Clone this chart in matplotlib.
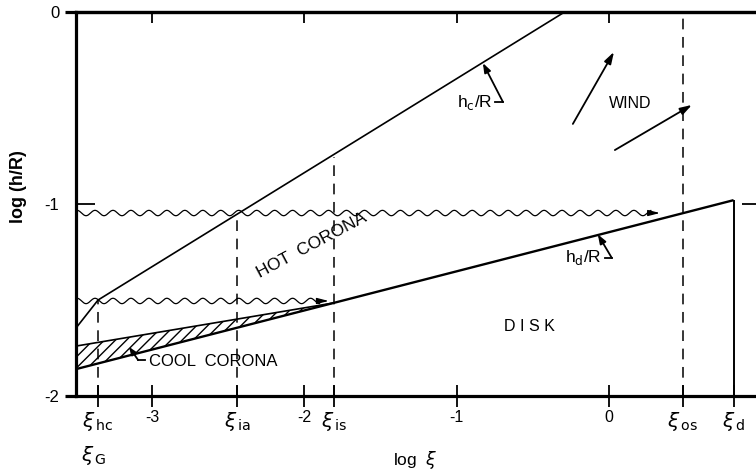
import numpy as np
import matplotlib
matplotlib.use("Agg")
import matplotlib.pyplot as plt
from matplotlib.ticker import FixedLocator, FixedFormatter

plt.rcParams['font.family'] = ['Liberation Sans', 'DejaVu Sans']
plt.rcParams['mathtext.fontset'] = 'dejavusans'
plt.rcParams['hatch.linewidth'] = 1.0

# ---- data (log xi, log h/R) ----
xi_hc, xi_ia, xi_is, xi_os, xi_d = -3.355, -2.44, -1.805, 0.486, 0.82
x_min, x_max = -3.5, 1.0
y_min, y_max = -2.0, 0.0

hc_x = [-3.5, xi_hc, -0.29]
hc_y = [-1.646, -1.5, 0.0]
disk_x = [-3.5, xi_d]
disk_y = [-1.86, -0.98]
cool_x = [-3.5, xi_is]
cool_lower = [-1.86, -1.514]
cool_upper = [-1.74, -1.515]

dash_x = [xi_hc, xi_ia, xi_is, xi_os]
dash_top = [-1.5, -1.06, -0.755, 0.0]

wave_levels = [-1.047, -1.505]
wave_ends = [0.336, -1.84]

wind_tails = [(-0.236, -0.583), (0.040, -0.719)]
wind_heads = [(0.034, -0.208), (0.546, -0.484)]

xtick_pos = [xi_hc, -3, xi_ia, -2, xi_is, -1, 0, xi_os, xi_d]
xtick_lab = [r'$\xi_{\,\mathrm{hc}}$', '-3', r'$\xi_{\,\mathrm{ia}}$', '-2',
             r'$\xi_{\,\mathrm{is}}$', '-1', '0', r'$\xi_{\,\mathrm{os}}$',
             r'$\xi_{\,\mathrm{d}}$']
ymaj_pos, ymaj_lab = [-2, 0], ['-2', '0']
ymin_pos, ymin_lab = [-1], ['-1']
top_ticks = [-3, -2, -1, 0]

fig = plt.figure(figsize=(7.56, 4.73), dpi=100)
ax = fig.add_axes([76/756, 1-396/473, 685/756, 384/473])
ax.set_xlim(x_min, x_max)
ax.set_ylim(y_min, y_max)

k = 'black'
# main curves
ax.plot(hc_x, hc_y, color=k, lw=1.2)
ax.plot(disk_x, disk_y, color=k, lw=1.7, solid_capstyle='butt')
ax.plot(cool_x, cool_upper, color=k, lw=1.2)
ax.fill_between(cool_x, cool_lower, cool_upper, facecolor='none',
                edgecolor=k, hatch='///', linewidth=0)
ax.vlines(xi_d, y_min, disk_y[-1], color=k, lw=1.4)
ax.vlines(dash_x, y_min, dash_top, color=k, lw=1.1, linestyles=(0, (7, 5)))

# wavy lines with arrowheads
amp, period = 0.014, 0.118
for lev, xe in zip(wave_levels, wave_ends):
    xs = np.linspace(x_min, xe - 0.06, 600)
    ys = lev + amp * np.sin(2 * np.pi * (xs - x_min) / period + 1.2)
    ax.plot(xs, ys, color=k, lw=0.9)
    ax.annotate('', xy=(xe, lev), xytext=(xe - 0.08, lev),
                arrowprops=dict(arrowstyle='-|>,head_length=0.7,head_width=0.18',
                                color=k, lw=0.9, shrinkA=0, shrinkB=0))

# wind arrows
for t, h in zip(wind_tails, wind_heads):
    ax.annotate('', xy=h, xytext=t,
                arrowprops=dict(arrowstyle='-|>,head_length=0.7,head_width=0.22',
                                color=k, lw=1.3, shrinkA=0, shrinkB=0))

# leaders
lead = dict(arrowstyle='-|>,head_length=0.55,head_width=0.2', color=k, lw=1.3,
            shrinkA=0, shrinkB=0)
ax.annotate('', xy=(-0.827, -0.266), xytext=(-0.695, -0.469), arrowprops=lead)
ax.plot([-0.695, -0.745], [-0.469, -0.469], color=k, lw=1.3)
ax.text(-0.765, -0.469, r'h$_\mathrm{c}$/R', ha='right', va='center', fontsize=12.5)

ax.annotate('', xy=(-0.072, -1.158), xytext=(0.020, -1.281), arrowprops=lead)
ax.plot([0.020, -0.028], [-1.281, -1.281], color=k, lw=1.3)
ax.text(-0.045, -1.281, r'h$_\mathrm{d}$/R', ha='right', va='center', fontsize=12.5)

ax.annotate('', xy=(-3.151, -1.745), xytext=(-3.092, -1.8125),
            arrowprops=dict(arrowstyle='-|>,head_length=0.45,head_width=0.18',
                            color=k, lw=1.3, shrinkA=0, shrinkB=0))
ax.plot([-3.092, -3.046], [-1.8125, -1.8125], color=k, lw=1.3)
ax.text(-3.02, -1.818, 'COOL  CORONA', ha='left', va='center', fontsize=12)

ax.text(-1.95, -1.215, 'HOT  CORONA', ha='center', va='center', fontsize=12.5,
        rotation=28, rotation_mode='anchor')
ax.text(-0.518, -1.64, 'D I S K', ha='center', va='center', fontsize=11.5)
ax.text(0.139, -0.474, 'WIND', ha='center', va='center', fontsize=11.5)

# spines / ticks
for s in ['left', 'bottom', 'top', 'right']:
    ax.spines[s].set_linewidth(2.3)
ax.set_xticks(xtick_pos)
ax.set_xticklabels(xtick_lab)
ax.tick_params(axis='x', direction='inout', length=16, width=1.3, pad=2,
               labelsize=11.5, top=False)
for lbl in ax.get_xticklabels():
    if lbl.get_text().startswith('$'):
        lbl.set_fontsize(14.5)

ax.yaxis.set_major_locator(FixedLocator(ymaj_pos))
ax.yaxis.set_major_formatter(FixedFormatter(ymaj_lab))
ax.yaxis.set_minor_locator(FixedLocator(ymin_pos))
ax.yaxis.set_minor_formatter(FixedFormatter(ymin_lab))
ax.tick_params(axis='y', which='major', direction='out', length=8, width=2.3,
               pad=4, labelsize=12, right=False)
ax.tick_params(axis='y', which='minor', direction='in', length=14, width=1.3,
               pad=12, labelsize=12, right=True)

sec = ax.secondary_xaxis('top')
sec.set_xticks(top_ticks)
sec.set_xticklabels([])
sec.tick_params(direction='in', length=8, width=1.3)
sec.spines['top'].set_linewidth(2.3)

ax.text(xi_hc - 0.03, -2.31, r'$\xi_{\,\mathrm{G}}$', ha='center', va='center',
        fontsize=14.5)
ax.set_xlabel(r'log  $\xi$', fontsize=12.5)
ax.xaxis.set_label_coords((415-76)/685, 1-(449-12)/384)
ax.set_ylabel('log (h/R)', fontsize=13, fontweight='bold')
ax.yaxis.set_label_coords((27-76)/685, 1-(187-12)/384)

fig.savefig('out.png', dpi=100)
